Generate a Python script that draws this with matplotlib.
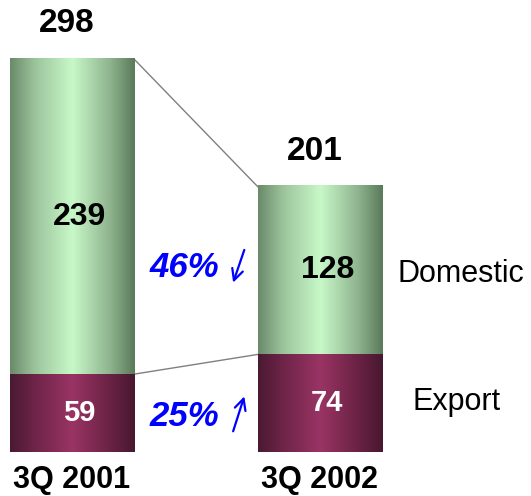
import numpy as np
import matplotlib
matplotlib.use("Agg")
import matplotlib.pyplot as plt
from matplotlib.colors import LinearSegmentedColormap

# data
periods = ["3Q 2001", "3Q 2002"]
export = [59, 74]
domestic = [239, 128]
totals = [298, 201]
series_names = ["Domestic", "Export"]
change_pct = ["46%", "25%"]          # domestic down, export up

plt.rcParams['font.family'] = ['Liberation Sans', 'DejaVu Sans']

fig = plt.figure(figsize=(5.31, 4.96), dpi=100)
ax = fig.add_axes([0, 44/496, 1, 452/496])
ax.set_xlim(-0.290, 1.851)
ax.set_ylim(0, 452/1.319)
ax.axis('off')

# cylinder-like shading
green = LinearSegmentedColormap.from_list(
    'g', [(0, '#6a8a6a'), (0.2, '#9cc49c'), (0.5, '#c8f8c8'), (0.8, '#8fb48f'), (1, '#5a7a5a')])
maroon = LinearSegmentedColormap.from_list(
    'm', [(0, '#4a1a32'), (0.2, '#6e2448'), (0.5, '#9a3464'), (0.8, '#6a2244'), (1, '#481830')])
grad = np.linspace(0, 1, 256).reshape(1, -1)
width = 0.5

x = np.arange(len(periods))
for i in x:
    segs = [(0, export[i], maroon), (export[i], export[i] + domestic[i], green)]
    for lo, hi, cm in segs:
        ax.imshow(grad, cmap=cm, aspect='auto', interpolation='bicubic',
                  extent=(i - width/2, i + width/2, lo, hi), zorder=2)

# connector lines
ax.plot([width/2, 1 - width/2], [totals[0], totals[1]], color='#808080', lw=1, zorder=1)
ax.plot([width/2, 1 - width/2], [export[0], export[1]], color='#808080', lw=1, zorder=1)

for i in x:
    ax.text(i - 0.02, totals[i] + 15, str(totals[i]), ha='center', va='bottom',
            fontsize=24, fontweight='bold')
    ax.text(i + 0.03, export[i] + domestic[i]/2, str(domestic[i]), ha='center', va='center',
            fontsize=23, fontweight='bold', zorder=3)
    ax.text(i + 0.03, export[i]/2, str(export[i]), ha='center', va='center',
            fontsize=21, fontweight='bold', color='white', zorder=3)
    ax.text(i, -21, periods[i], ha='center', va='center', fontsize=22, fontweight='bold')

# series names next to second bar
ax.text(1.569, export[1] + domestic[1]/2 - 3, series_names[0], ha='center', va='center', fontsize=22)
ax.text(1.552, export[1]/2 + 1, series_names[1], ha='center', va='center', fontsize=22)

# change between periods, with thin slanted arrows
ax.text(0.593, 140, change_pct[0], ha='right', va='center', fontsize=25, fontweight='bold',
        style='italic', color='#0000ff')
ax.text(0.593, 27, change_pct[1], ha='right', va='center', fontsize=25, fontweight='bold',
        style='italic', color='#0000ff')
arrow_style = dict(arrowstyle='->', color='#0000ff', lw=1.6,
                   mutation_scale=20, shrinkA=0, shrinkB=0)
ax.annotate('', xy=(0.650, 128.4), xytext=(0.695, 153.2), arrowprops=arrow_style)
ax.annotate('', xy=(0.695, 42.2), xytext=(0.650, 15.7), arrowprops=arrow_style)

fig.savefig('out.png', dpi=100)
